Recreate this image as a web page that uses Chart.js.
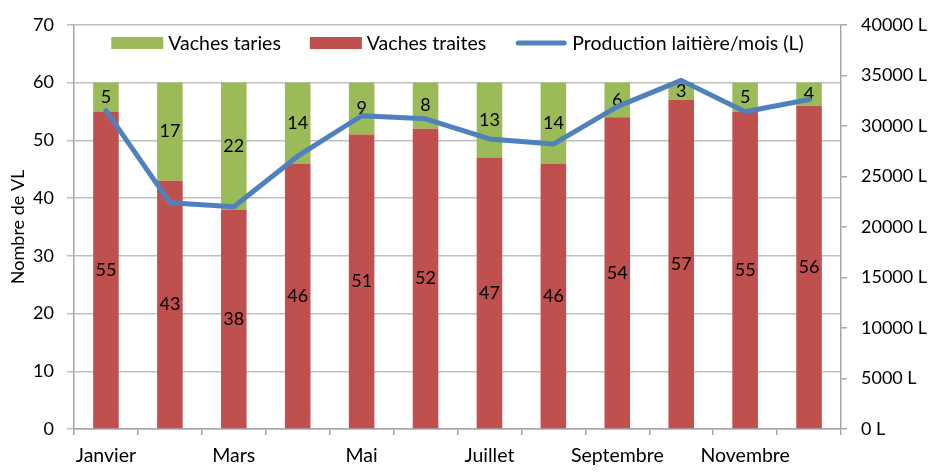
<!DOCTYPE html>
<html>
<head>
<meta charset="utf-8">
<script src="https://cdn.jsdelivr.net/npm/chart.js@4.4.0/dist/chart.umd.min.js"></script>
<style>
  html, body { margin: 0; padding: 0; background: #fff; }
  #wrap { width: 938px; height: 473px; }
</style>
</head>
<body>
<div id="wrap"><canvas id="graphe"></canvas></div>
<script>
// Données
const mois = ["Janvier", "Février", "Mars", "Avril", "Mai", "Juin", "Juillet", "Août", "Septembre", "Octobre", "Novembre", "Décembre"];
const vachesTraites = [55, 43, 38, 46, 51, 52, 47, 46, 54, 57, 55, 56];
const vachesTaries = [5, 17, 22, 14, 9, 8, 13, 14, 6, 3, 5, 4];
const productionLitres = [31500, 22400, 22000, 27000, 31000, 30700, 28700, 28200, 31900, 34500, 31400, 32600];

const POLICE = "Lato, 'Open Sans', sans-serif";
const TAILLE = 18;      // chiffres
const TAILLE_TXT = 19.5; // textes (légende, mois)
const GRIS = '#a6a6a6';

// Étiquettes au centre de chaque segment de barre (sous la courbe)
const etiquettesBarres = {
  id: 'etiquettesBarres',
  afterDatasetDraw(chart, args) {
    const ds = chart.data.datasets[args.index];
    if (ds.type !== 'bar') return;
    const ctx = chart.ctx;
    ctx.save();
    ctx.font = TAILLE + 'px ' + POLICE;
    ctx.fillStyle = '#000';
    ctx.textAlign = 'center';
    ctx.textBaseline = 'middle';
    args.meta.data.forEach((el, i) => {
      ctx.fillText(String(ds.data[i]), el.x, (el.y + el.base) / 2);
    });
    ctx.restore();
  }
};

// Légende dessinée à l'intérieur de la zone du graphique
const legendeInterne = {
  id: 'legendeInterne',
  afterDraw(chart) {
    const ctx = chart.ctx;
    const area = chart.chartArea;
    const items = [2, 1, 0].map(i => chart.data.datasets[i]);
    ctx.save();
    ctx.font = TAILLE_TXT + 'px ' + POLICE;
    const boite = 52, ecart = 5, espace = 29;
    let total = 0;
    items.forEach((it, k) => {
      total += boite + ecart + ctx.measureText(it.label).width + (k < items.length - 1 ? espace : 0);
    });
    let x = (area.left + area.right) / 2 - total / 2;
    const y = 43;
    items.forEach(it => {
      if (it.type === 'line') {
        ctx.strokeStyle = it.borderColor;
        ctx.lineWidth = 5;
        ctx.lineCap = 'round';
        ctx.beginPath();
        ctx.moveTo(x + 3, y);
        ctx.lineTo(x + boite - 3, y);
        ctx.stroke();
      } else {
        ctx.fillStyle = it.backgroundColor;
        ctx.fillRect(x, y - 6, boite, 12);
      }
      x += boite + ecart;
      ctx.fillStyle = '#000';
      ctx.textBaseline = 'middle';
      ctx.textAlign = 'left';
      ctx.fillText(it.label, x, y + 1);
      x += ctx.measureText(it.label).width + espace;
    });
    ctx.restore();
  }
};

new Chart(document.getElementById('graphe').getContext('2d'), {
  data: {
    labels: mois,
    datasets: [
      {
        type: 'line',
        label: 'Production laitière/mois (L)',
        data: productionLitres,
        yAxisID: 'yL',
        borderColor: '#4f81bd',
        borderWidth: 5,
        borderJoinStyle: 'round',
        borderCapStyle: 'round',
        pointRadius: 0,
        tension: 0,
        order: 0
      },
      {
        type: 'bar',
        label: 'Vaches traites',
        data: vachesTraites,
        yAxisID: 'y',
        backgroundColor: '#c0504d',
        barPercentage: 0.4,
        categoryPercentage: 1,
        order: 1
      },
      {
        type: 'bar',
        label: 'Vaches taries',
        data: vachesTaries,
        yAxisID: 'y',
        backgroundColor: '#9bbb59',
        barPercentage: 0.4,
        categoryPercentage: 1,
        order: 1
      }
    ]
  },
  options: {
    responsive: true,
    maintainAspectRatio: false,
    animation: false,
    layout: { padding: { top: 23, left: 0, right: 0, bottom: 0 } },
    plugins: {
      legend: { display: false },
      tooltip: { enabled: false }
    },
    scales: {
      x: {
        stacked: true,
        offset: true,
        afterFit: s => { s.height = 44; },
        grid: {
          display: true,
          offset: true,
          drawOnChartArea: false,
          color: GRIS,
          lineWidth: 1.5,
          tickLength: 6
        },
        border: { color: GRIS, width: 1.5 },
        ticks: {
          autoSkip: false,
          maxRotation: 0,
          padding: 9,
          color: '#000',
          font: { family: POLICE, size: TAILLE_TXT },
          callback: function (v, i) { return i % 2 === 0 ? this.getLabelForValue(v) : ''; }
        }
      },
      y: {
        stacked: true,
        position: 'left',
        min: 0,
        max: 70,
        afterFit: s => { s.width = 74; },
        grid: {
          color: '#bfbfbf',
          lineWidth: 1.5,
          tickLength: 7,
          borderDash: [9, 5]
        },
        border: { color: GRIS, width: 1.5 },
        ticks: {
          stepSize: 10,
          padding: 13,
          color: '#000',
          font: { family: POLICE, size: TAILLE }
        },
        title: {
          display: true,
          text: 'Nombre de VL',
          color: '#000',
          font: { family: POLICE, size: 18 },
          padding: { top: 7, bottom: 0 }
        }
      },
      yL: {
        position: 'right',
        min: 0,
        max: 40000,
        afterFit: s => { s.width = 97; },
        grid: {
          drawOnChartArea: false,
          color: GRIS,
          lineWidth: 1.5,
          tickLength: 6
        },
        border: { color: GRIS, width: 1.5 },
        ticks: {
          stepSize: 5000,
          padding: 14,
          color: '#000',
          font: { family: POLICE, size: TAILLE },
          callback: v => v + ' L'
        }
      }
    }
  },
  plugins: [etiquettesBarres, legendeInterne]
});
</script>
</body>
</html>
